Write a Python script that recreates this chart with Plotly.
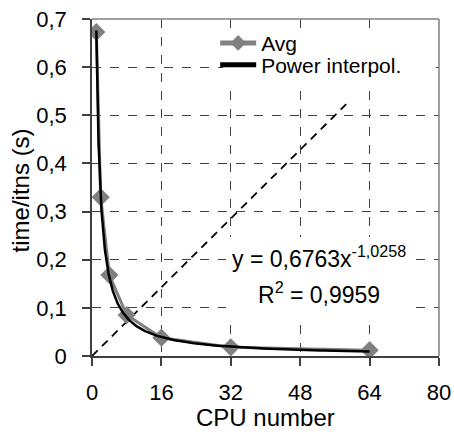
import numpy as np
import plotly.graph_objects as go

# Data
cpu = [1, 2, 4, 8, 16, 32, 64]
avg_time = [0.673, 0.330, 0.168, 0.085, 0.038, 0.018, 0.012]

# Power trend line coefficients (shown on chart)
fit_a = 0.6763
fit_b = -1.0258
fit_r2 = 0.9959

# Reference dashed line (from origin)
ref_x = [0, 58.6]
ref_y = [0, 0.523]

x_ticks = [0, 16, 32, 48, 64, 80]
x_ticktext = ["0", "16", "32", "48", "64", "80"]
y_ticks = [0, 0.1, 0.2, 0.3, 0.4, 0.5, 0.6, 0.7]
y_ticktext = ["0", "0,1", "0,2", "0,3", "0,4", "0,5", "0,6", "0,7"]

fit_x = np.geomspace(cpu[0], cpu[-1], 300)
fit_y = fit_a * fit_x ** fit_b

FONT = "Liberation Sans, Arial, sans-serif"
fig = go.Figure()

fig.add_trace(go.Scatter(x=ref_x, y=ref_y, mode="lines",
                         line=dict(color="black", width=1.8, dash="8px,6px"),
                         showlegend=False, hoverinfo="skip"))
fig.add_trace(go.Scatter(x=cpu, y=avg_time, mode="lines+markers", name="Avg",
                         line=dict(color="#808080", width=3),
                         marker=dict(symbol="diamond", size=14, color="#808080"),
                         legend="legend"))
fig.add_trace(go.Scatter(x=fit_x, y=fit_y, mode="lines", name="Power interpol.",
                         line=dict(color="black", width=2.5), legend="legend2"))

leg = dict(xanchor="left", yanchor="middle", bgcolor="rgba(0,0,0,0)",
           font=dict(size=21), itemsizing="constant", itemwidth=36)
fig.update_layout(
    width=454, height=434,
    margin=dict(l=92, r=15, t=19, b=78),
    paper_bgcolor="white", plot_bgcolor="white",
    font=dict(family=FONT, size=22, color="black"),
    legend=dict(x=0.355, y=0.928, **leg),
    legend2=dict(x=0.355, y=0.863, **leg),
    showlegend=True,
)

grid = dict(showgrid=True, gridcolor="#404040", gridwidth=1, griddash="dash",
            showline=True, linecolor="#404040", linewidth=1.5,
            ticks="outside", ticklen=8, tickcolor="#404040", tickwidth=1.5,
            zeroline=False, tickfont=dict(size=22), automargin=False)

fig.update_xaxes(range=[0, 80], tickvals=x_ticks, ticktext=x_ticktext,
                 ticklabelstandoff=8, **grid)
fig.update_yaxes(range=[0, 0.7], tickvals=y_ticks, ticktext=y_ticktext,
                 ticklabelstandoff=11, **grid)

# axis titles as annotations for exact placement
fig.add_annotation(x=-0.205, y=0.491, xref="paper", yref="paper", showarrow=False,
                   xanchor="center", yanchor="middle",
                   text="time/itns (s)", textangle=-90, font=dict(size=24))
fig.add_annotation(x=0.5, y=-0.183, xref="paper", yref="paper", showarrow=False,
                   xanchor="center", yanchor="middle",
                   text="CPU number", font=dict(size=24))

# top and right borders
fig.add_shape(type="line", xref="paper", yref="paper", x0=0, x1=1, y0=1, y1=1,
              line=dict(color="#808080", width=1.5))
fig.add_shape(type="line", xref="paper", yref="paper", x0=1, x1=1, y0=0, y1=1,
              line=dict(color="#808080", width=1.5))

# white backgrounds behind legend and equation (hide gridlines there)
fig.add_shape(type="rect", xref="paper", yref="paper", x0=0.3775, x1=0.991,
              y0=0.813, y1=0.973, fillcolor="white", line=dict(width=0),
              layer="above")
fig.add_shape(type="rect", xref="paper", yref="paper", x0=0.386, x1=0.922,
              y0=0.119, y1=0.353, fillcolor="white", line=dict(width=0),
              layer="above")

fig.add_annotation(x=0.655, y=0.244, xref="paper", yref="paper", showarrow=False,
                   text="y = 0,6763x<sup>-1,0258</sup>", font=dict(size=23))
fig.add_annotation(x=0.655, y=0.136, xref="paper", yref="paper", showarrow=False,
                   text="R<sup>2</sup> = 0,9959", font=dict(size=23))

fig.write_html("out.html", config={"displayModeBar": False},
               post_script="document.body.style.margin='0px';")
